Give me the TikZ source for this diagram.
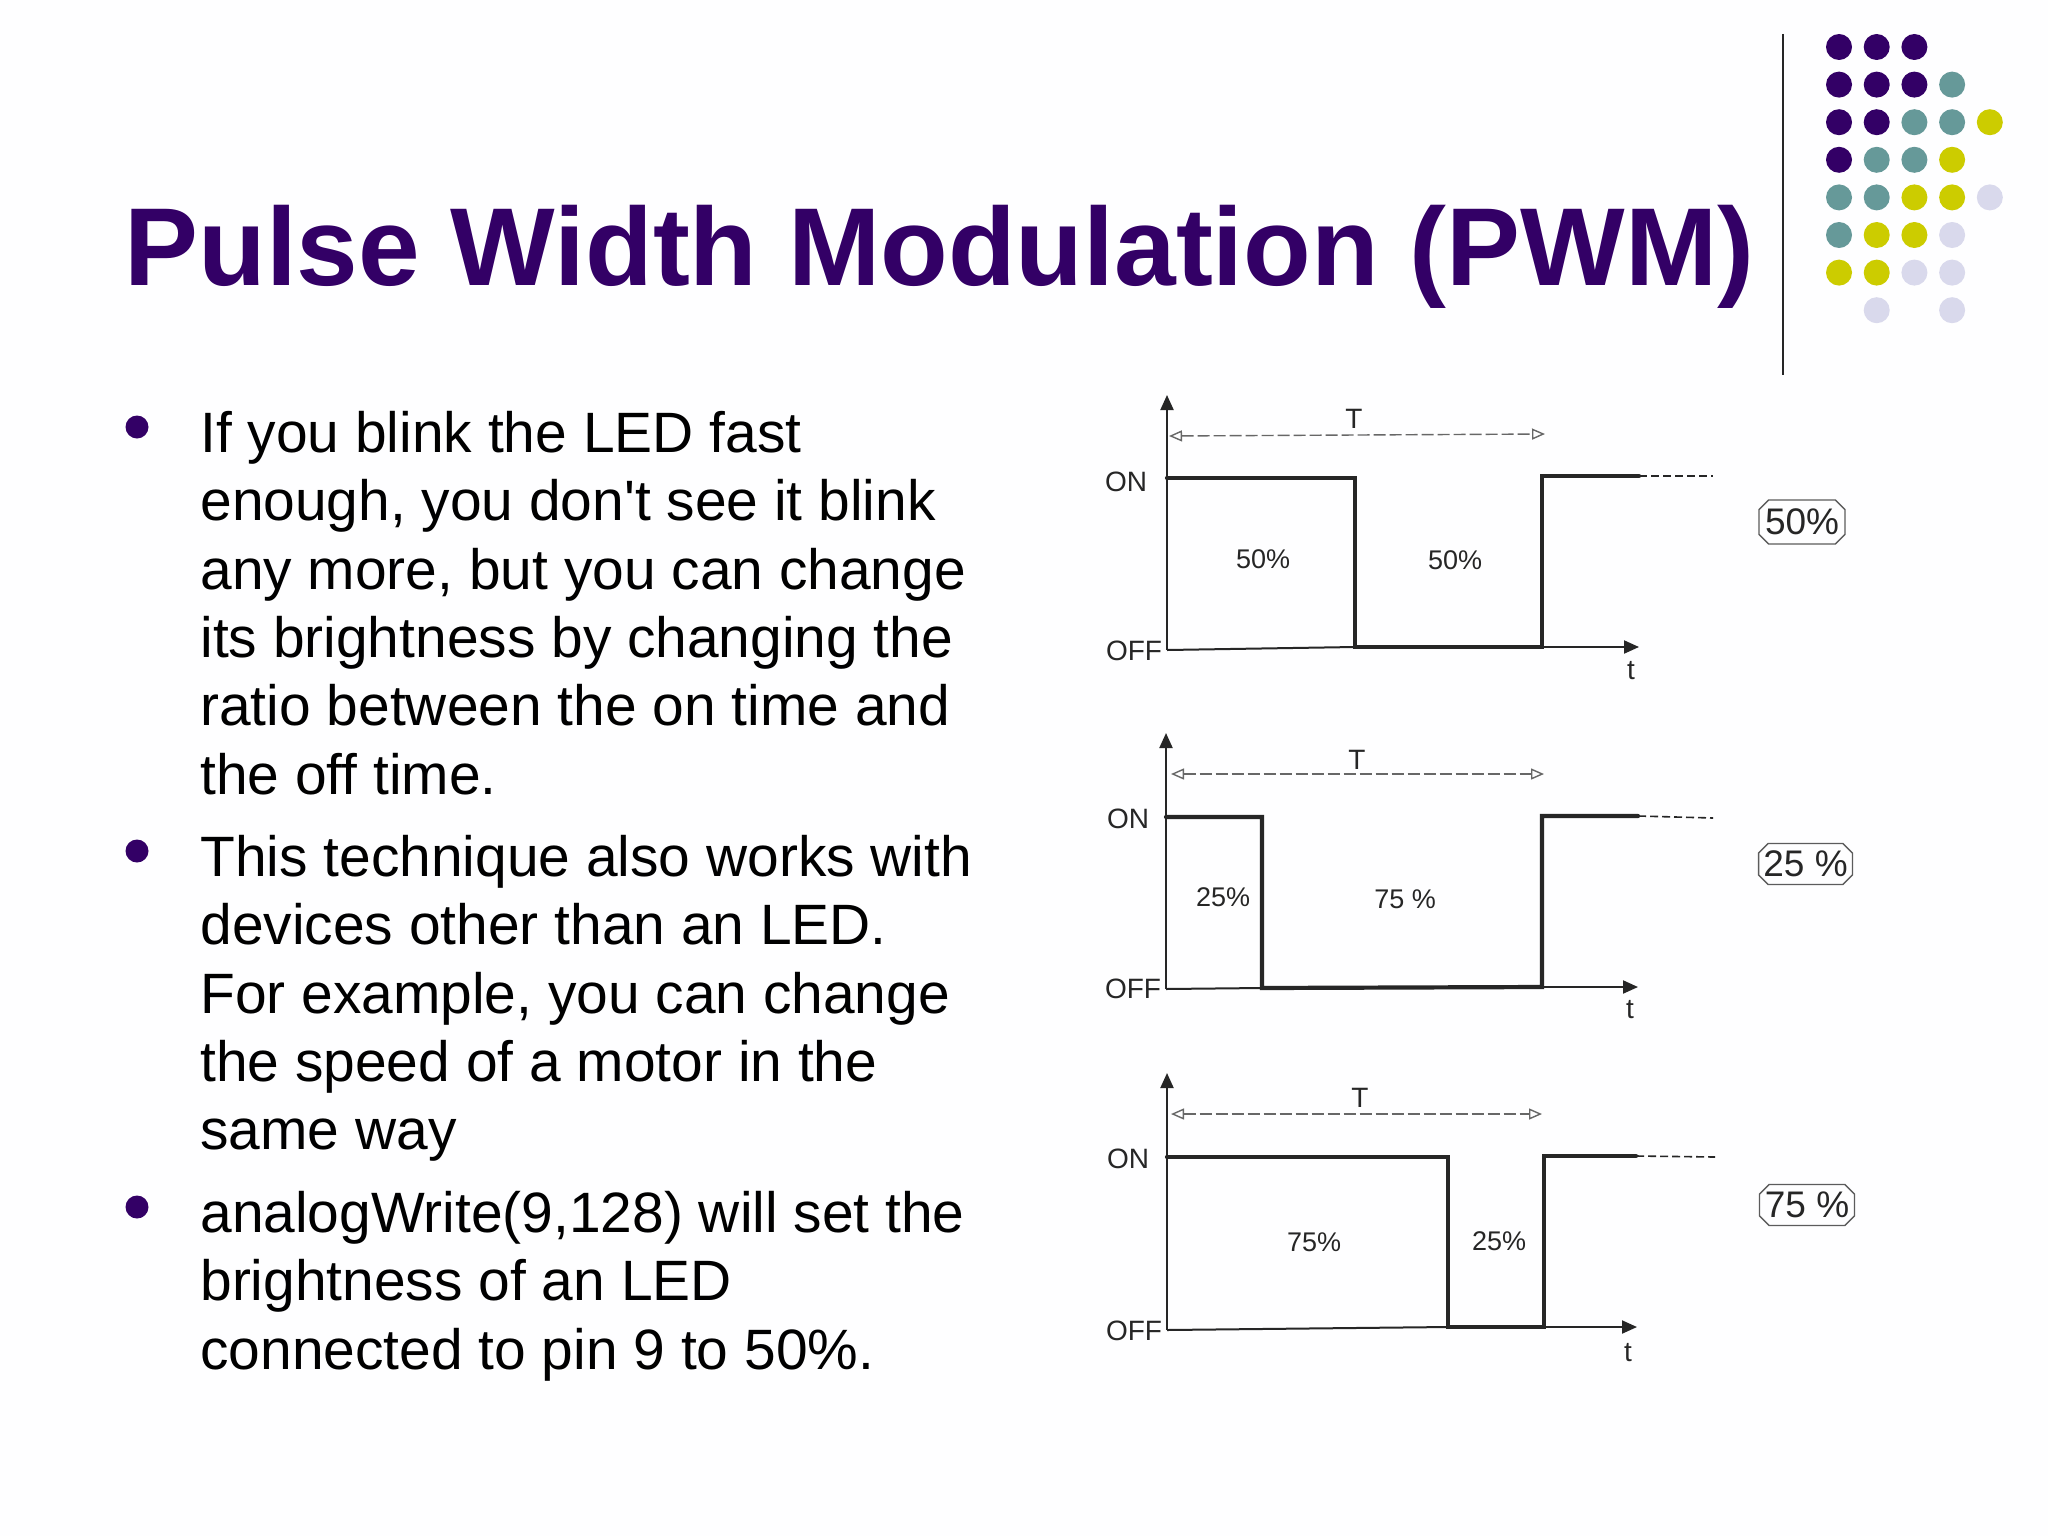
\documentclass[tikz,border=0pt]{standalone}
\usepackage{fontspec}
\setmainfont{Liberation Sans}
\usetikzlibrary{arrows.meta,shapes.misc}
\definecolor{deep}{HTML}{330066}
\definecolor{teal}{HTML}{669999}
\definecolor{lime}{HTML}{CCCC00}
\definecolor{lilac}{HTML}{D9D9EC}
\definecolor{ink}{HTML}{262626}
\definecolor{paper}{HTML}{FEFEFF}
\tikzset{
  titletext/.style={inner sep=0pt,anchor=base west,text=deep,font=\fontsize{55.4}{60}\selectfont\bfseries},
  bodytext/.style={inner sep=0pt,anchor=north west,align=left,text=black,font=\fontsize{28.45}{34.15}\selectfont},
  bulletdot/.style={circle,fill=deep,inner sep=0pt,minimum size=11.5pt},
  dot/.style={circle,inner sep=0pt,minimum size=13pt},
  axisline/.style={draw=ink,line width=1pt},
  axisarrow/.style={axisline,-{Triangle[length=7.5pt,width=6.5pt]}},
  wave/.style={draw=ink,line width=2.1pt,line cap=round,line join=miter},
  tail/.style={draw=ink,line width=.8pt,dash pattern=on 4pt off 2pt},
  span/.style={draw=ink!70,line width=.7pt,dash pattern=on 6pt off 2pt,{Triangle[open,length=6.5pt,width=5.5pt]}-{Triangle[open,length=6.5pt,width=5.5pt]}},
  axlabel/.style={inner sep=0pt,text=ink,font=\fontsize{14}{16}\selectfont},
  pct/.style={inner sep=0pt,text=ink,font=\fontsize{13.5}{15}\selectfont},
  badge/.style={chamfered rectangle,chamfered rectangle xsep=2.4pt,chamfered rectangle ysep=2.4pt,draw=ink!75,line width=.7pt,inner sep=0pt,text=ink,font=\fontsize{18.5}{20}\selectfont},
}
\begin{document}
\begin{tikzpicture}[x=0.5pt,y=-0.5pt]
\useasboundingbox[fill=paper] (0,0) rectangle (2048,1536);

% corner dots
\foreach \col/\row/\c in {
 1/1/deep,2/1/deep,3/1/deep,
 1/2/deep,2/2/deep,3/2/deep,4/2/teal,
 1/3/deep,2/3/deep,3/3/teal,4/3/teal,5/3/lime,
 1/4/deep,2/4/teal,3/4/teal,4/4/lime,
 1/5/teal,2/5/teal,3/5/lime,4/5/lime,5/5/lilac,
 1/6/teal,2/6/lime,3/6/lime,4/6/lilac,
 1/7/lime,2/7/lime,3/7/lilac,4/7/lilac,
 2/8/lilac,4/8/lilac}{
  \pgfmathsetmacro\dx{1839+37.7*(\col-1)}
  \pgfmathsetmacro\dy{47+37.6*(\row-1)}
  \node[dot,fill=\c] (d\col-\row) at (\dx,\dy) {};
}
\coordinate (ruleA) at (1783,34);
\coordinate (ruleB) at (1783,375);
\draw[ink,line width=1pt] (ruleA) -- (ruleB);

% title
\node[titletext] (title) at (124,285) {Pulse Width Modulation (PWM)};

% body
\node[bulletdot] (b1) at (137,427) {};
\node[bulletdot] (b2) at (137,851) {};
\node[bulletdot] (b3) at (137,1207) {};
\node[bodytext] (p1) at (200,411) {\rule{0pt}{20pt}If you blink the LED fast\\enough, you don\textquotesingle t see it blink\\any more, but you can change\\its brightness by changing the\\ratio between the on time and\\the off time.};
\node[bodytext] (p2) at (200,835) {\rule{0pt}{20pt}This technique also works with\\devices other than an LED.\\For example, you can change\\the speed of a motor in the\\same way};
\node[bodytext] (p3) at (200,1191) {\rule{0pt}{20pt}analogWrite(9,128) will set the\\brightness of an LED\\connected to pin 9 to 50\%.};

% chart 1 (50%)
\coordinate (a1top) at (1167,395);
\coordinate (a1o) at (1167,650);
\coordinate (a1on) at (1167,478);
\coordinate (a1fh) at (1355,478);
\coordinate (a1fl) at (1355,647);
\coordinate (a1rl) at (1542,647);
\coordinate (a1rh) at (1542,476);
\coordinate (a1e) at (1639,476);
\coordinate (a1d) at (1713,476);
\coordinate (a1t) at (1639,647);
\coordinate (s1a) at (1169,436);
\coordinate (s1b) at (1545,434);
\draw[axisarrow] (a1o) -- (a1top);
\draw[axisline] (a1o) -- (a1fl);
\draw[axisarrow] (a1rl) -- (a1t);
\draw[wave] (a1on) -- (a1fh) -- (a1fl) -- (a1rl) -- (a1rh) -- (a1e);
\draw[tail] (a1e) -- (a1d);
\draw[span] (s1a) -- (s1b);
\node[axlabel] (t1T) at (1354,419) {T};
\node[axlabel] (t1on) at (1126,482) {ON};
\node[axlabel] (t1off) at (1134,651) {OFF};
\node[axlabel] (t1t) at (1631,671) {t};
\node[pct] (t1a) at (1263,559) {50\%};
\node[pct] (t1b) at (1455,560) {50\%};
\node[badge,minimum width=43pt,minimum height=22pt] (b50) at (1802,522) {50\%};

% chart 2 (25%)
\coordinate (a2top) at (1166,733);
\coordinate (a2o) at (1166,989);
\coordinate (a2on) at (1166,817);
\coordinate (a2fh) at (1262,817);
\coordinate (a2fl) at (1262,988);
\coordinate (a2rl) at (1542,987);
\coordinate (a2rh) at (1542,816);
\coordinate (a2e) at (1638,816);
\coordinate (a2d) at (1713,818);
\coordinate (a2t) at (1638,987);
\coordinate (s2a) at (1171,774);
\coordinate (s2b) at (1544,774);
\draw[axisarrow] (a2o) -- (a2top);
\draw[axisline] (a2o) -- (a2fl);
\draw[axisarrow] (a2rl) -- (a2t);
\draw[wave] (a2on) -- (a2fh) -- (a2fl) -- (a2rl) -- (a2rh) -- (a2e);
\draw[tail] (a2e) -- (a2d);
\draw[span] (s2a) -- (s2b);
\node[axlabel] (t2T) at (1357,760) {T};
\node[axlabel] (t2on) at (1128,819) {ON};
\node[axlabel] (t2off) at (1133,989) {OFF};
\node[axlabel] (t2t) at (1630,1010) {t};
\node[pct] (t2a) at (1223,897) {25\%};
\node[pct] (t2b) at (1405,899) {75 \%};
\node[badge,minimum width=45.5pt,minimum height=20.5pt] (b25) at (1805.5,864) {25 \%};

% chart 3 (75%)
\coordinate (a3top) at (1167,1073);
\coordinate (a3o) at (1167,1330);
\coordinate (a3on) at (1167,1157);
\coordinate (a3fh) at (1448,1157);
\coordinate (a3fl) at (1448,1327);
\coordinate (a3rl) at (1544,1327);
\coordinate (a3rh) at (1544,1156);
\coordinate (a3e) at (1636,1156);
\coordinate (a3d) at (1715,1157);
\coordinate (a3t) at (1637,1327);
\coordinate (s3a) at (1171,1114);
\coordinate (s3b) at (1542,1114);
\draw[axisarrow] (a3o) -- (a3top);
\draw[axisline] (a3o) -- (a3fl);
\draw[axisarrow] (a3rl) -- (a3t);
\draw[wave] (a3on) -- (a3fh) -- (a3fl) -- (a3rl) -- (a3rh) -- (a3e);
\draw[tail] (a3e) -- (a3d);
\draw[span] (s3a) -- (s3b);
\node[axlabel] (t3T) at (1360,1098) {T};
\node[axlabel] (t3on) at (1128,1159) {ON};
\node[axlabel] (t3off) at (1134,1331) {OFF};
\node[axlabel] (t3t) at (1628,1353) {t};
\node[pct] (t3a) at (1314,1242) {75\%};
\node[pct] (t3b) at (1499,1241) {25\%};
\node[badge,minimum width=47.5pt,minimum height=20.5pt] (b75) at (1807,1205) {75 \%};
\end{tikzpicture}
\end{document}
